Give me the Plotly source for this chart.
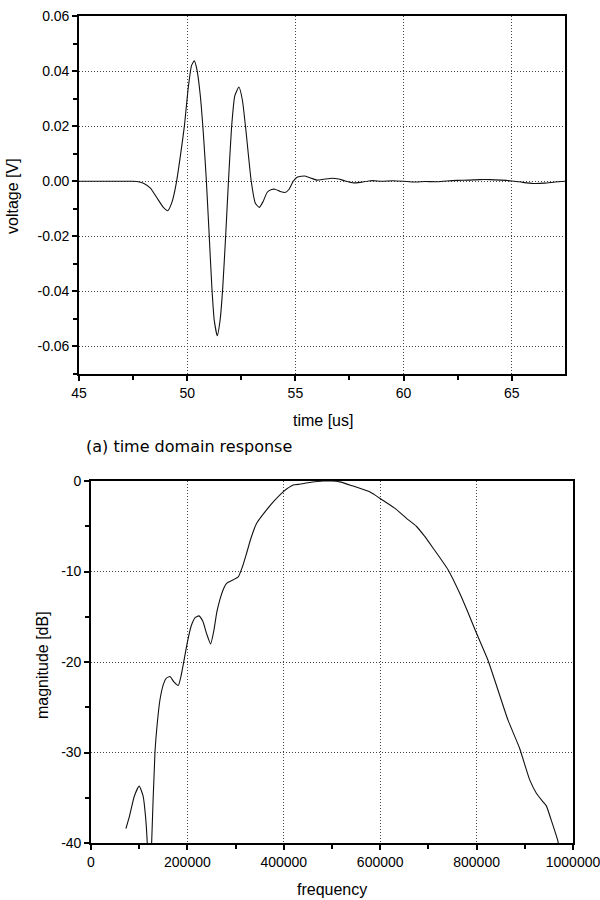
import plotly.graph_objects as go

# ---------------- data: time-domain response ----------------
time_us = [45.0, 46.0, 47.0, 47.5, 47.8, 48.0, 48.3, 48.6, 48.9, 49.1, 49.3, 49.5, 49.7,
           49.87, 50.05, 50.2, 50.33, 50.45, 50.6, 50.75, 50.88, 51.0, 51.14, 51.25, 51.39,
           51.52, 51.64, 51.78, 51.9, 52.05, 52.2, 52.39, 52.55, 52.7, 52.96, 53.15, 53.33,
           53.5, 53.7, 53.9, 54.06, 54.3, 54.52, 54.7, 54.9, 55.1, 55.44, 55.7, 56.0, 56.3,
           56.7, 57.0, 57.3, 57.7, 58.0, 58.5, 59.0, 59.5, 60.0, 60.5, 61.0, 61.5, 62.0,
           62.5, 63.0, 63.5, 64.0, 64.5, 65.0, 65.5, 66.0, 66.5, 67.0, 67.5]
voltage_v = [0.0, 0.0, 0.0, 0.0, -0.0003, -0.0008, -0.0025, -0.0060, -0.0095, -0.0107,
             -0.0075, -0.0005, 0.0100, 0.0200, 0.0340, 0.0420, 0.0437, 0.0405, 0.0315,
             0.0170, 0.0010, -0.0170, -0.0385, -0.0505, -0.0561, -0.0505, -0.0390, -0.0195,
             -0.0010, 0.0195, 0.0310, 0.0342, 0.0295, 0.0195, 0.0000, -0.0080, -0.0095,
             -0.0075, -0.0040, -0.0030, -0.0029, -0.0037, -0.0041, -0.0030, 0.0000, 0.0015,
             0.0019, 0.0012, 0.0004, 0.0007, 0.0011, 0.0008, 0.0001, -0.0006, -0.0004,
             0.0002, 0.0000, 0.0002, 0.0000, -0.0003, -0.0001, -0.0002, 0.0001, 0.0003,
             0.0004, 0.0006, 0.0006, 0.0004, 0.0001, -0.0004, -0.0008, -0.0007, -0.0003, 0.0]

# ---------------- data: frequency response ----------------
freq_hz = [72500, 80000, 90000, 100000, 108000, 113000, 116700, 120000, 123000, 125800,
           132700, 138000, 143000, 150000, 156000, 163800, 172000, 181000, 187000, 193000,
           200000, 208000, 216000, 223900, 232000, 240000, 248100, 255000, 261000, 267400,
           275000, 281300, 292000, 305400, 314000, 322700, 332000, 343400, 364200, 380000,
           398700, 419400, 433000, 450000, 481600, 500000, 516000, 540000, 578000, 599000,
           630000, 654000, 675000, 692000, 709500, 740700, 765000, 782000, 799600, 823600,
           845000, 865000, 889000, 910000, 924000, 937000, 944700, 955000, 968700, 975000]
magnitude_db = [-38.4, -37.0, -34.8, -33.7, -34.8, -37.0, -40.0, -46.0, -46.0, -40.0,
                -30.0, -26.5, -24.2, -22.5, -21.8, -21.6, -22.2, -22.6, -21.5, -19.8,
                -17.8, -16.0, -15.1, -14.9, -15.5, -16.9, -18.0, -16.5, -14.5, -13.1,
                -11.9, -11.3, -11.0, -10.6, -9.5, -8.0, -6.3, -4.7, -3.2, -2.2,
                -1.2, -0.45, -0.35, -0.2, 0.0, 0.0, -0.1, -0.5, -1.2, -1.9,
                -3.0, -4.1, -5.0, -6.1, -7.4, -9.8, -12.4, -14.5, -16.8, -19.8,
                -23.2, -26.4, -29.5, -33.0, -34.5, -35.4, -35.9, -37.5, -39.8, -42.0]

# ---------------- tick labels ----------------
t_tickvals = [45, 50, 55, 60, 65]
t_ticktext = ["45", "50", "55", "60", "65"]
v_tickvals = [0.06, 0.04, 0.02, 0.0, -0.02, -0.04, -0.06]
v_ticktext = ["0.06", "0.04", "0.02", "0.00", "-0.02", "-0.04", "-0.06"]
f_tickvals = [0, 200000, 400000, 600000, 800000, 1000000]
f_ticktext = ["0", "200000", "400000", "600000", "800000", "1000000"]
m_tickvals = [0, -10, -20, -30, -40]
m_ticktext = ["0", "-10", "-20", "-30", "-40"]

FONT = "Liberation Sans, Arial, sans-serif"
W, H = 600, 900

fig = go.Figure()
fig.add_trace(go.Scatter(x=time_us, y=voltage_v, mode="lines",
                         line=dict(color="#111", width=1.1, shape="spline", smoothing=0.5),
                         xaxis="x", yaxis="y", showlegend=False))
fig.add_trace(go.Scatter(x=freq_hz, y=magnitude_db, mode="lines",
                         line=dict(color="#111", width=1.1, shape="spline", smoothing=0.5),
                         xaxis="x2", yaxis="y2", showlegend=False))

common = dict(showline=True, linecolor="black", linewidth=1.6, mirror=True,
              ticks="outside", ticklen=5, tickwidth=1.5, tickcolor="black",
              showgrid=True, gridcolor="#444", griddash="1px,2px", gridwidth=1,
              zeroline=False, automargin=False,
              tickfont=dict(family=FONT, size=14, color="black"))

fig.update_layout(
    width=W, height=H, template="none",
    paper_bgcolor="white", plot_bgcolor="white",
    margin=dict(l=0, r=0, t=0, b=0),
    xaxis=dict(domain=[79 / W, 565 / W], anchor="y", range=[45, 67.46],
               tickmode="array", tickvals=t_tickvals, ticktext=t_ticktext,
               minor=dict(dtick=2.5, tick0=45, ticks="outside", ticklen=4, tickcolor="black", showgrid=False),
               **common),
    yaxis=dict(domain=[1 - 374 / H, 1 - 16 / H], anchor="x", range=[-0.07, 0.06],
               tickmode="array", tickvals=v_tickvals, ticktext=v_ticktext,
               minor=dict(dtick=0.01, tick0=0, ticks="outside", ticklen=4, tickcolor="black", showgrid=False),
               **common),
    xaxis2=dict(domain=[91 / W, 573 / W], anchor="y2", range=[0, 1000000],
                tickmode="array", tickvals=f_tickvals, ticktext=f_ticktext,
                ticklabeloverflow="allow",
                minor=dict(dtick=100000, tick0=0, ticks="outside", ticklen=4, tickcolor="black", showgrid=False),
                **common),
    yaxis2=dict(domain=[1 - 843 / H, 1 - 481 / H], anchor="x2", range=[-40, 0],
                tickmode="array", tickvals=m_tickvals, ticktext=m_ticktext,
                minor=dict(dtick=5, tick0=0, ticks="outside", ticklen=4, tickcolor="black", showgrid=False),
                **common),
)

ann_font = dict(family=FONT, size=16, color="black")
fig.add_annotation(text="voltage [V]", x=13 / W, y=1 - 196 / H, xref="paper", yref="paper",
                   textangle=-90, showarrow=False, font=ann_font, xanchor="center", yanchor="middle")
fig.add_annotation(text="time [us]", x=323 / W, y=1 - 420 / H, xref="paper", yref="paper",
                   showarrow=False, font=ann_font, xanchor="center", yanchor="middle")
fig.add_annotation(text="(a) time domain response", x=84 / W, y=1 - 447 / H, xref="paper", yref="paper",
                   showarrow=False, font=dict(family="DejaVu Sans, sans-serif", size=16, color="black"),
                   xanchor="left", yanchor="middle")
fig.add_annotation(text="magnitude [dB]", x=42 / W, y=1 - 665 / H, xref="paper", yref="paper",
                   textangle=-90, showarrow=False, font=ann_font, xanchor="center", yanchor="middle")
fig.add_annotation(text="frequency", x=332 / W, y=1 - 889 / H, xref="paper", yref="paper",
                   showarrow=False, font=ann_font, xanchor="center", yanchor="middle")

fig.write_html("out.html")
